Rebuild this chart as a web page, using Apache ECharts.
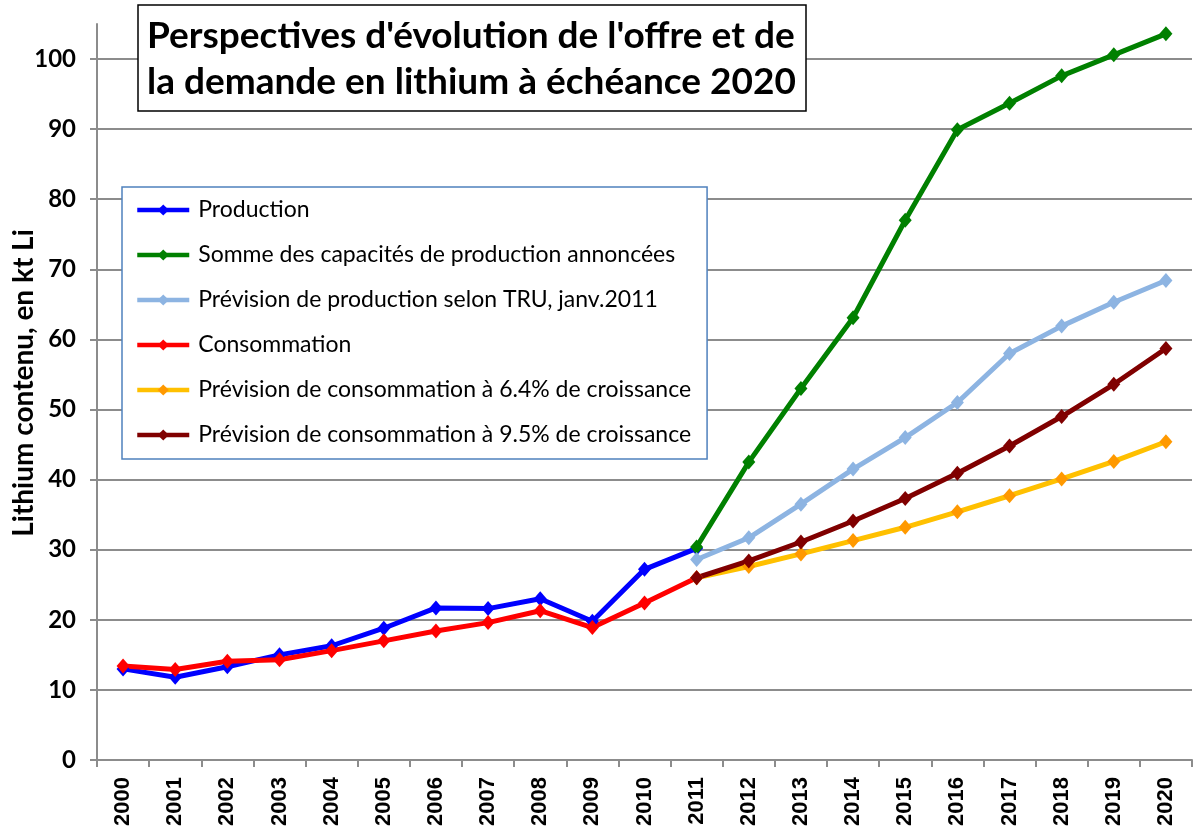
<!DOCTYPE html>
<html>
<head>
<meta charset="utf-8">
<script src="https://cdn.jsdelivr.net/npm/echarts@6/dist/echarts.min.js"></script>
<style>
  html, body { margin: 0; padding: 0; background: #fff; }
  #main { width: 1196px; height: 827px; }
</style>
</head>
<body>
<div id="main"></div>
<script>
var years = ['2000', '2001', '2002', '2003', '2004', '2005', '2006', '2007', '2008', '2009', '2010',
             '2011', '2012', '2013', '2014', '2015', '2016', '2017', '2018', '2019', '2020'];

// kt Li
var production = [13.0, 11.8, 13.3, 15.0, 16.3, 18.8, 21.7, 21.6, 23.0, 19.8, 27.2, 30.2,
                  null, null, null, null, null, null, null, null, null];
var capacites = [null, null, null, null, null, null, null, null, null, null, null,
                 30.4, 42.5, 53.0, 63.1, 77.0, 89.9, 93.7, 97.6, 100.6, 103.6];
var previsionTRU = [null, null, null, null, null, null, null, null, null, null, null,
                    28.6, 31.7, 36.5, 41.5, 46.0, 51.0, 58.0, 61.9, 65.3, 68.4];
var consommation = [13.4, 12.9, 14.1, 14.3, 15.6, 17.0, 18.4, 19.6, 21.3, 18.9, 22.4, 26.0,
                    null, null, null, null, null, null, null, null, null];
var conso64 = [null, null, null, null, null, null, null, null, null, null, null,
               26.0, 27.6, 29.4, 31.3, 33.2, 35.4, 37.7, 40.1, 42.6, 45.4];
var conso95 = [null, null, null, null, null, null, null, null, null, null, null,
               26.0, 28.4, 31.1, 34.1, 37.3, 40.9, 44.8, 49.0, 53.6, 58.7];

var seriesNames = [
    'Production',
    'Somme des capacités de production annoncées',
    'Prévision de production selon TRU, janv.2011',
    'Consommation',
    'Prévision de consommation à 6.4% de croissance',
    'Prévision de consommation à 9.5% de croissance'
];

var myChart = echarts.init(document.getElementById('main'));

function lineSeries(name, data, lineColor, markColor) {
    return {
        type: 'line',
        name: name,
        data: data,
        symbol: 'diamond',
        symbolSize: [13, 15],
        showAllSymbol: true,
        connectNulls: false,
        lineStyle: { color: lineColor, width: 5 },
        itemStyle: { color: markColor || lineColor },
        emphasis: { disabled: true }
    };
}

myChart.setOption({
    animation: false,
    title: {
        text: "Perspectives d'évolution de l'offre et de\nla demande en lithium à échéance 2020",
        left: 138,
        top: 5,
        padding: [8, 10, 6, 9],
        borderColor: '#000',
        borderWidth: 1.5,
        backgroundColor: '#fff',
        textStyle: {
            fontFamily: 'Lato',
            fontWeight: 'bold',
            fontSize: 37,
            lineHeight: 46,
            color: '#000'
        }
    },
    legend: {
        orient: 'vertical',
        left: 122,
        top: 187,
        padding: [11, 16, 12, 13],
        itemGap: 21,
        itemWidth: 52,
        itemHeight: 14,
        backgroundColor: '#fff',
        borderColor: '#4F81BD',
        borderWidth: 1.5,
        borderRadius: 0,
        lineStyle: { width: 4.5 },
        textStyle: {
            fontFamily: 'Lato',
            fontSize: 23,
            lineHeight: 24,
            color: '#000',
            padding: [0, 0, 0, 4]
        },
        data: seriesNames
    },
    grid: {
        left: 97,
        right: 4,
        top: 24,
        bottom: 67,
        outerBoundsMode: 'none'
    },
    xAxis: {
        type: 'category',
        data: years,
        boundaryGap: true,
        axisLine: { lineStyle: { color: '#8c8c8c', width: 2 } },
        axisTick: { show: true, length: 7, lineStyle: { color: '#8c8c8c', width: 2 } },
        axisLabel: {
            rotate: 90,
            margin: 17,
            interval: 0,
            fontFamily: 'Liberation Sans',
            fontWeight: 'bold',
            fontSize: 22,
            color: '#000'
        },
        splitLine: { show: false }
    },
    yAxis: {
        type: 'value',
        min: 0,
        max: 105,
        interval: 10,
        name: 'Lithium contenu, en kt Li',
        nameLocation: 'middle',
        nameGap: 59,
        nameMoveOverlap: false,
        nameTextStyle: {
            fontFamily: 'Lato',
            fontWeight: 'bold',
            fontSize: 28,
            color: '#000',
            padding: [0, 0, 0, 18]
        },
        axisLine: { show: true, lineStyle: { color: '#8c8c8c', width: 2 } },
        axisTick: { show: true, length: 7, lineStyle: { color: '#8c8c8c', width: 2 } },
        axisLabel: {
            showMaxLabel: false,
            margin: 21,
            fontFamily: 'Lato',
            fontWeight: 'bold',
            fontSize: 24,
            color: '#000'
        },
        splitLine: { show: true, showMaxLine: false, lineStyle: { color: '#8c8c8c', width: 2 } }
    },
    series: [
        lineSeries(seriesNames[0], production, '#0000FF'),
        lineSeries(seriesNames[1], capacites, '#008000'),
        lineSeries(seriesNames[2], previsionTRU, '#8DB4E2'),
        lineSeries(seriesNames[3], consommation, '#FF0000'),
        lineSeries(seriesNames[4], conso64, '#FFC000', '#FF9900'),
        lineSeries(seriesNames[5], conso95, '#800000')
    ]
});
</script>
</body>
</html>
